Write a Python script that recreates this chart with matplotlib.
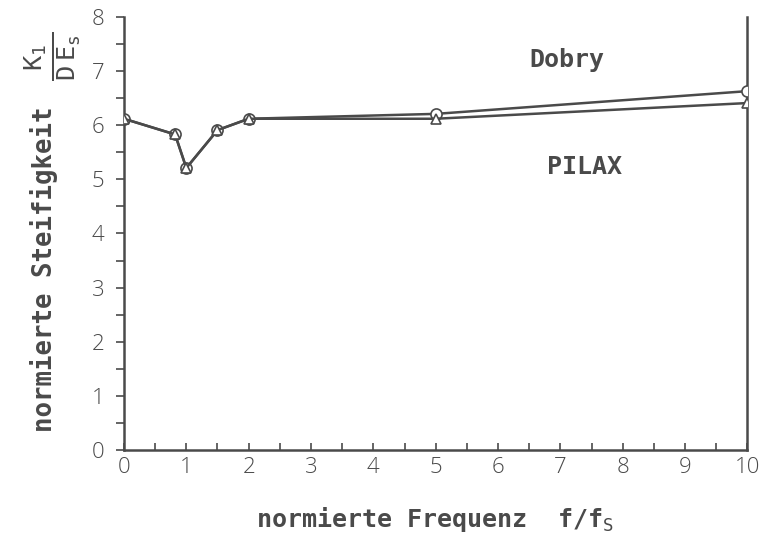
import matplotlib.pyplot as plt
from matplotlib.ticker import MultipleLocator

# data
freq = [0, 0.82, 1.0, 1.5, 2, 5, 10]
dobry = [6.12, 5.83, 5.21, 5.91, 6.12, 6.21, 6.63]
pilax = [6.12, 5.83, 5.21, 5.91, 6.12, 6.12, 6.41]
xticks = list(range(0, 11))
yticks = list(range(0, 9))

ink = '#4a4a4a'
mono = 'DejaVu Sans Mono'

plt.rcParams['mathtext.fontset'] = 'custom'
plt.rcParams['mathtext.rm'] = mono
plt.rcParams['mathtext.it'] = mono

fig = plt.figure(figsize=(7.63, 5.38), dpi=100)
ax = fig.add_axes([0.1625, 0.1636, 0.817, 0.8048])

ax.plot(freq, dobry, color=ink, lw=1.8, marker='o', ms=8,
        mfc='white', mec=ink, mew=1.2, zorder=3)
ax.plot(freq, pilax, color=ink, lw=1.8, marker='^', ms=7,
        mfc='white', mec=ink, mew=1.2, zorder=3)

ax.set_xlim(0, 10)
ax.set_ylim(0, 8)
ax.set_xticks(xticks)
ax.set_yticks(yticks)
ax.xaxis.set_minor_locator(MultipleLocator(0.5))
ax.yaxis.set_minor_locator(MultipleLocator(0.5))
ax.tick_params(axis='x', which='both', direction='in', length=5, width=1.2,
               color=ink, labelsize=16, labelcolor=ink, pad=5)
ax.tick_params(axis='y', which='both', direction='out', length=6, width=1.2,
               color=ink, labelsize=16, labelcolor=ink, pad=8)
for lab in ax.get_xticklabels() + ax.get_yticklabels():
    lab.set_fontfamily('Open Sans')
    lab.set_fontweight('light')

ax.spines['top'].set_visible(False)
for s in ['left', 'bottom', 'right']:
    ax.spines[s].set_color(ink)
    ax.spines[s].set_linewidth(1.8)

ax.text(7.1, 7.2, 'Dobry', family=mono, fontsize=18, fontweight='bold',
        color=ink, ha='center', va='center')
ax.text(7.39, 5.23, 'PILAX', family=mono, fontsize=18, fontweight='bold',
        color=ink, ha='center', va='center')

fig.text(0.058, 0.50, 'normierte Steifigkeit', family=mono, fontsize=18.5,
         fontweight='bold', color=ink, rotation=90, ha='center', va='center')
fig.text(0.068, 0.895, r'$\frac{\mathrm{K_1}}{\mathrm{D\ E_s}}$', fontsize=26,
         color=ink, rotation=90, ha='center', va='center')
fig.text(0.57, 0.035, r'normierte Frequenz  f/f$_\mathrm{S}$', family=mono,
         fontsize=18, fontweight='bold', color=ink, ha='center', va='center')

fig.savefig('out.png', dpi=100)
